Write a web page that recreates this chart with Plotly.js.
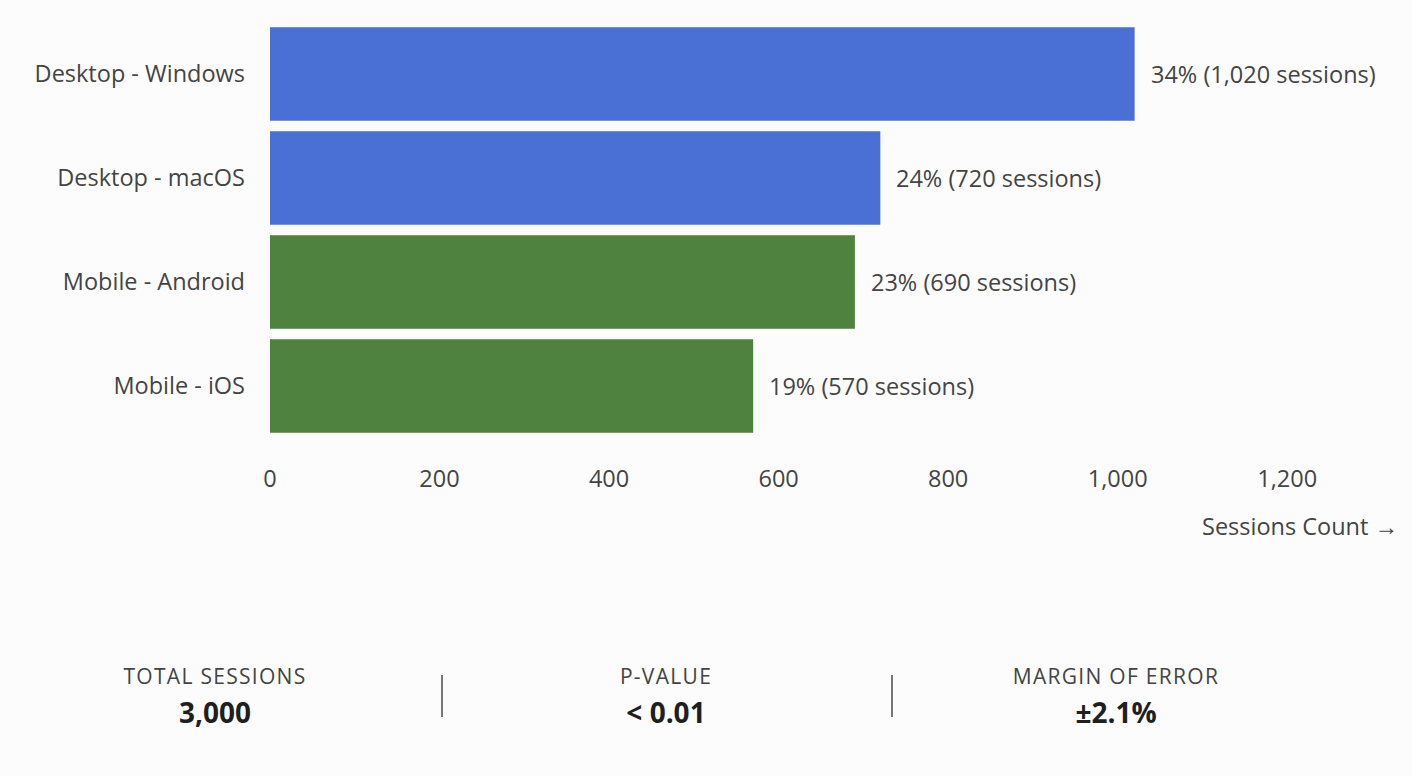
<!DOCTYPE html>
<html>
<head>
<meta charset="utf-8">
<script src="https://cdn.plot.ly/plotly-3.0.1.min.js"></script>
<style>
  html, body { margin: 0; padding: 0; background: #fcfcfc; }
  #barPlot_os { width: 1412px; height: 776px; }
  .stats { position: absolute; left: 0; top: 660px; width: 1412px; height: 70px; font-family: "Open Sans", sans-serif; }
  .stat { position: absolute; top: 0; width: 400px; margin-left: -200px; text-align: center; }
  .stat .lbl { font-size: 21px; letter-spacing: 1.3px; color: #444; line-height: 32px; }
  .stat .val { font-size: 28px; font-weight: bold; color: #1f1f1f; line-height: 40px; }
  .sep { position: absolute; top: 15px; width: 1.5px; height: 42px; background: #777; }
</style>
</head>
<body>
<div id="barPlot_os"></div>
<div class="stats">
  <div class="stat" style="left:215px"><div class="lbl">TOTAL SESSIONS</div><div class="val">3,000</div></div>
  <div class="sep" style="left:441px"></div>
  <div class="stat" style="left:666px"><div class="lbl">P-VALUE</div><div class="val">&lt; 0.01</div></div>
  <div class="sep" style="left:891px"></div>
  <div class="stat" style="left:1116px"><div class="lbl">MARGIN OF ERROR</div><div class="val">±2.1%</div></div>
</div>
<script>
// data
let platforms = ["Desktop - Windows", "Desktop - macOS", "Mobile - Android", "Mobile - iOS"];
let sessions = [1020, 720, 690, 570];
let shares = [34, 24, 23, 19];
let barColors = ["#4a70d6", "#4a70d6", "#4e823e", "#4e823e"];
let tickVals = [0, 200, 400, 600, 800, 1000, 1200];
let tickText = ["0", "200", "400", "600", "800", "1,000", "1,200"];

var cb_barPlot_os = function () {
  let trace1 = {
    y: platforms,
    x: sessions,
    type: "bar",
    orientation: "h",
    marker: { color: barColors },
    hoverinfo: "none",
  };

  // value labels to the right of each bar
  let labels = platforms.map(function (p, i) {
    return {
      x: sessions[i],
      y: p,
      xref: "x",
      yref: "y",
      text: shares[i] + "% (" + sessions[i].toLocaleString("en-US") + " sessions)",
      showarrow: false,
      xanchor: "left",
      xshift: 14,
      font: { size: 23.5, color: "#444" },
    };
  });

  labels.push({
    x: 1,
    y: 0,
    xref: "paper",
    yref: "paper",
    yshift: -88,
    xshift: 6,
    xanchor: "right",
    yanchor: "middle",
    text: "Sessions Count \u2192",
    showarrow: false,
    font: { size: 23.5, color: "#444" },
  });

  let layout = {
    width: 1412,
    height: 776,
    paper_bgcolor: "#fcfcfc",
    plot_bgcolor: "#fcfcfc",
    font: { family: "'Open Sans', sans-serif", size: 23.5, color: "#444" },
    margin: { l: 270, r: 18, t: 22, b: 338, pad: 0 },
    showlegend: false,
    bargap: 0.1,
    xaxis: {
      range: [0, 1326],
      tickvals: tickVals,
      ticktext: tickText,
      showgrid: false,
      zeroline: false,
      showline: false,
      ticks: "",
      ticklabelstandoff: 24,
      fixedrange: true,
    },
    yaxis: {
      autorange: "reversed",
      showgrid: false,
      zeroline: false,
      showline: false,
      ticks: "",
      ticklabelstandoff: 24,
      fixedrange: true,
    },
    annotations: labels,
  };

  let config = { displayModeBar: false, responsive: false };

  Plotly.newPlot("barPlot_os", [trace1], layout, config);
};

cb_barPlot_os();
</script>
</body>
</html>
